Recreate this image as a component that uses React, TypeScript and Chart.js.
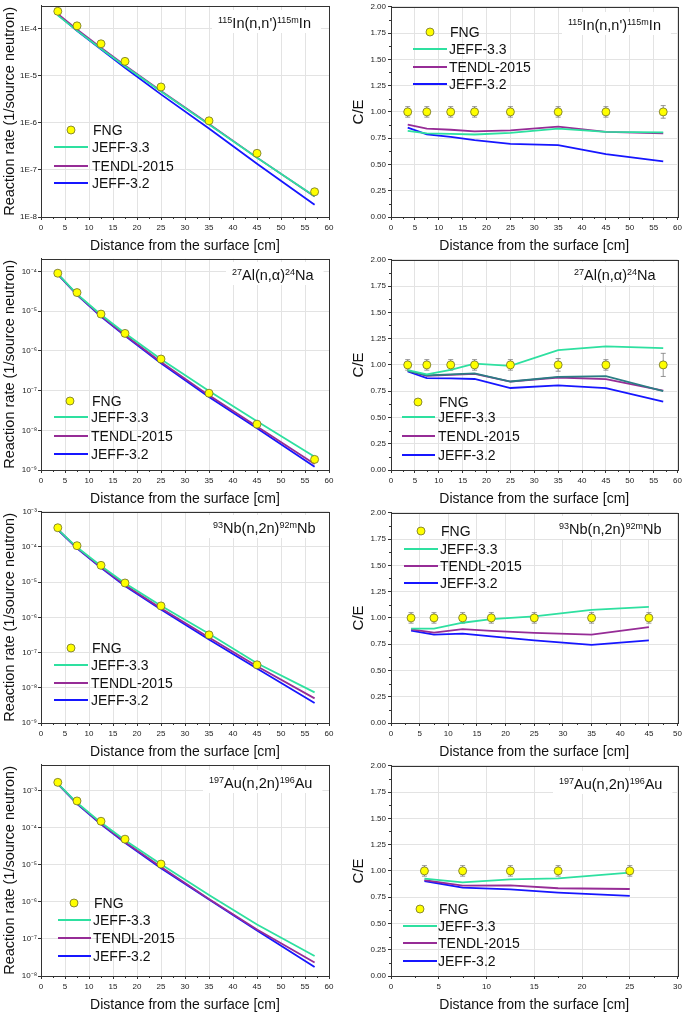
import React, { useEffect, useRef } from 'react';
import { Chart, registerables } from 'chart.js';

Chart.register(...registerables);

const FONT = "'Liberation Sans', Arial, Helvetica, sans-serif";
const C_GREEN = '#2ee0a0';
const C_PURPLE = '#962c96';
const C_BLUE = '#1616ff';
const C_TEAL = '#2b7d84';

// ---------- x positions (cm) ----------
const depthAll = [3.5, 7.5, 12.5, 17.5, 25, 35, 45, 57];
const depthNb = [3.5, 7.5, 12.5, 17.5, 25, 35, 45];
const depthAu = [3.5, 7.5, 12.5, 17.5, 25];

// ---------- 115In(n,n')115mIn ----------
const inFng = [2.37e-4, 1.16e-4, 4.82e-5, 2.04e-5, 5.82e-6, 1.11e-6, 2.26e-7, 3.44e-8];
const inJeff33 = [1.94e-4, 9.2e-5, 3.8e-5, 1.6e-5, 4.66e-6, 9.3e-7, 1.83e-7, 2.77e-8];
const inTendl = [2.09e-4, 9.7e-5, 4.0e-5, 1.66e-5, 4.8e-6, 9.5e-7, 1.83e-7, 2.73e-8];
const inJeff32 = [2.01e-4, 9.1e-5, 3.67e-5, 1.49e-5, 4.05e-6, 7.6e-7, 1.35e-7, 1.82e-8];
const inCeFng = [1, 1, 1, 1, 1, 1, 1, 1];
const inCeErr = [0.05, 0.05, 0.05, 0.05, 0.05, 0.05, 0.05, 0.06];
const inCeJeff33 = [0.82, 0.795, 0.79, 0.785, 0.8, 0.84, 0.81, 0.805];
const inCeTendl = [0.88, 0.84, 0.83, 0.815, 0.825, 0.86, 0.81, 0.795];
const inCeJeff32 = [0.85, 0.787, 0.762, 0.731, 0.696, 0.683, 0.598, 0.529];

// ---------- 27Al(n,a)24Na ----------
const alFng = [9.1e-5, 2.96e-5, 8.5e-6, 2.77e-6, 6.26e-7, 8.6e-8, 1.43e-8, 1.85e-9];
const alJeff33 = [8.7e-5, 2.71e-5, 8.2e-6, 2.8e-6, 6.2e-7, 9.8e-8, 1.69e-8, 2.15e-9];
const alTendl = [8.6e-5, 2.63e-5, 7.7e-6, 2.53e-6, 5.26e-7, 7.6e-8, 1.24e-8, 1.41e-9];
const alJeff32 = [8.55e-5, 2.59e-5, 7.4e-6, 2.41e-6, 4.88e-7, 6.9e-8, 1.12e-8, 1.2e-9];
const alCeFng = [1, 1, 1, 1, 1, 1, 1, 1];
const alCeErr = [0.05, 0.05, 0.05, 0.05, 0.05, 0.06, 0.05, 0.11];
const alCeJeff33 = [0.95, 0.91, 0.953, 1.013, 0.99, 1.14, 1.176, 1.16];
const alCeTendl = [0.945, 0.895, 0.905, 0.915, 0.84, 0.88, 0.864, 0.756];
const alCeExtra = [0.943, 0.9, 0.91, 0.92, 0.842, 0.886, 0.893, 0.75];
const alCeJeff32 = [0.937, 0.875, 0.872, 0.866, 0.78, 0.806, 0.78, 0.651];

// ---------- 93Nb(n,2n)92mNb ----------
const nbFng = [3.52e-4, 1.09e-4, 3.01e-5, 9.5e-6, 2.12e-6, 3.19e-7, 4.5e-8];
const nbJeff33 = [3.16e-4, 9.8e-5, 2.87e-5, 9.4e-6, 2.15e-6, 3.44e-7, 4.97e-8, 7.4e-9];
const nbTendl = [3.14e-4, 9.4e-5, 2.69e-5, 8.3e-6, 1.82e-6, 2.68e-7, 4.1e-8, 5.0e-9];
const nbJeff32 = [3.09e-4, 9.2e-5, 2.56e-5, 7.8e-6, 1.67e-6, 2.37e-7, 3.54e-8, 3.7e-9];
const nbCeFng = [1, 1, 1, 1, 1, 1, 1];
const nbCeErr = [0.05, 0.05, 0.05, 0.05, 0.05, 0.05, 0.05];
const nbCeJeff33 = [0.898, 0.898, 0.954, 0.989, 1.014, 1.077, 1.105];
const nbCeTendl = [0.891, 0.86, 0.894, 0.876, 0.857, 0.841, 0.913];
const nbCeJeff32 = [0.879, 0.841, 0.85, 0.825, 0.787, 0.743, 0.787];

// ---------- 197Au(n,2n)196Au ----------
const auFng = [1.71e-3, 5.38e-4, 1.52e-4, 4.99e-5, 1.06e-5];
const auJeff33 = [1.58e-3, 4.79e-4, 1.4e-4, 4.64e-5, 1.04e-5, 1.55e-6, 2.46e-7, 3.46e-8];
const auTendl = [1.56e-3, 4.63e-4, 1.31e-4, 4.17e-5, 8.8e-6, 1.21e-6, 1.81e-7, 2.33e-8];
const auJeff32 = [1.55e-3, 4.52e-4, 1.25e-4, 3.96e-5, 8.1e-6, 1.17e-6, 1.7e-7, 1.75e-8];
const auCeFng = [1, 1, 1, 1, 1];
const auCeErr = [0.05, 0.05, 0.05, 0.05, 0.05];
const auCeJeff33 = [0.926, 0.891, 0.92, 0.929, 0.983];
const auCeTendl = [0.913, 0.86, 0.863, 0.835, 0.828];
const auCeJeff32 = [0.904, 0.841, 0.825, 0.794, 0.762];

// ---------- tick values & labels ----------
const inTicks = [1e-8, 1e-7, 1e-6, 1e-5, 1e-4];
const inTickLabels = ['1E-8', '1E-7', '1E-6', '1E-5', '1E-4'];
const alTicks = [1e-9, 1e-8, 1e-7, 1e-6, 1e-5, 1e-4];
const alTickLabels = ['10⁻⁹', '10⁻⁸', '10⁻⁷', '10⁻⁶', '10⁻⁵', '10⁻⁴'];
const nbTicks = [1e-9, 1e-8, 1e-7, 1e-6, 1e-5, 1e-4, 1e-3];
const nbTickLabels = ['10⁻⁹', '10⁻⁸', '10⁻⁷', '10⁻⁶', '10⁻⁵', '10⁻⁴', '10⁻³'];
const auTicks = [1e-8, 1e-7, 1e-6, 1e-5, 1e-4, 1e-3];
const auTickLabels = ['10⁻⁸', '10⁻⁷', '10⁻⁶', '10⁻⁵', '10⁻⁴', '10⁻³'];

const legendNames = ['FNG', 'JEFF-3.3', 'TENDL-2015', 'JEFF-3.2'];

type Seg = [string, boolean];
const inLabel: Seg[] = [['115', true], ["In(n,n')", false], ['115m', true], ['In', false]];
const alLabel: Seg[] = [['27', true], ['Al(n,α)', false], ['24', true], ['Na', false]];
const nbLabel: Seg[] = [['93', true], ['Nb(n,2n)', false], ['92m', true], ['Nb', false]];
const auLabel: Seg[] = [['197', true], ['Au(n,2n)', false], ['196', true], ['Au', false]];

type Series = { label: string; x: number[]; y: number[]; color: string; kind: 'point' | 'line'; err?: number[] };
type Legend = { mx: number; my: number; x1: number; x2: number; tx: number; ys: number[] };
type PanelDef = {
  left: number; top: number; w: number; h: number;
  padTop: number; padRight: number; yAxisWidth: number; xAxisHeight: number;
  xMax: number; log: boolean; yMin: number; yMax: number;
  yTicks?: number[]; yTickLabels?: string[]; yTitle: string; yTitlePad: number;
  series: Series[]; label: Seg[]; labelX: number; labelY: number; legend: Legend;
};

function logSeries(fng: number[], fx: number[], j33: number[], td: number[], j32: number[]): Series[] {
  return [
    { label: 'FNG', x: fx, y: fng, color: '#ffff00', kind: 'point' },
    { label: 'JEFF-3.3', x: depthAll, y: j33, color: C_GREEN, kind: 'line' },
    { label: 'TENDL-2015', x: depthAll, y: td, color: C_PURPLE, kind: 'line' },
    { label: 'JEFF-3.2', x: depthAll, y: j32, color: C_BLUE, kind: 'line' },
  ];
}

const LEFT_BASE = { left: 0, w: 340, h: 253, padTop: 5, padRight: 11, yAxisWidth: 41, xAxisHeight: 36, xMax: 60, log: true, yTitle: 'Reaction rate (1/source neutron)', yTitlePad: 1 };
const RIGHT_BASE = { left: 345, w: 340, h: 253, padTop: 6, padRight: 7, yAxisWidth: 46, xAxisHeight: 36, log: false, yMin: 0, yMax: 2, yTitle: 'C/E', yTitlePad: 5 };

const panels: PanelDef[] = [
  {
    ...LEFT_BASE, top: 0, yMin: 1e-8, yMax: 3.1e-4, yTicks: inTicks, yTickLabels: inTickLabels,
    series: logSeries(inFng, depthAll, inJeff33, inTendl, inJeff32),
    label: inLabel, labelX: 218, labelY: 28,
    legend: { mx: 71, my: 130, x1: 54, x2: 88, tx: 92, ys: [147, 166, 183] },
  },
  {
    ...RIGHT_BASE, top: 0, xMax: 60,
    series: [
      { label: 'FNG', x: depthAll, y: inCeFng, color: '#ffff00', kind: 'point', err: inCeErr },
      { label: 'JEFF-3.3', x: depthAll, y: inCeJeff33, color: C_GREEN, kind: 'line' },
      { label: 'TENDL-2015', x: depthAll, y: inCeTendl, color: C_PURPLE, kind: 'line' },
      { label: 'JEFF-3.2', x: depthAll, y: inCeJeff32, color: C_BLUE, kind: 'line' },
    ],
    label: inLabel, labelX: 223, labelY: 30,
    legend: { mx: 85, my: 32, x1: 68, x2: 102, tx: 104, ys: [49, 67, 84] },
  },
  {
    ...LEFT_BASE, top: 253, yMin: 1e-9, yMax: 2.1e-4, yTicks: alTicks, yTickLabels: alTickLabels,
    series: logSeries(alFng, depthAll, alJeff33, alTendl, alJeff32),
    label: alLabel, labelX: 232, labelY: 27,
    legend: { mx: 70, my: 148, x1: 54, x2: 88, tx: 91, ys: [164, 183, 201] },
  },
  {
    ...RIGHT_BASE, top: 253, xMax: 60,
    series: [
      { label: 'FNG', x: depthAll, y: alCeFng, color: '#ffff00', kind: 'point', err: alCeErr },
      { label: 'JEFF-3.3', x: depthAll, y: alCeJeff33, color: C_GREEN, kind: 'line' },
      { label: '', x: depthAll, y: alCeExtra, color: C_TEAL, kind: 'line' },
      { label: 'TENDL-2015', x: depthAll, y: alCeTendl, color: C_PURPLE, kind: 'line' },
      { label: 'JEFF-3.2', x: depthAll, y: alCeJeff32, color: C_BLUE, kind: 'line' },
    ],
    label: alLabel, labelX: 229, labelY: 27,
    legend: { mx: 73, my: 149, x1: 57, x2: 90, tx: 93, ys: [164, 183, 202] },
  },
  {
    ...LEFT_BASE, top: 506, yMin: 1e-9, yMax: 1e-3, yTicks: nbTicks, yTickLabels: nbTickLabels,
    series: logSeries(nbFng, depthNb, nbJeff33, nbTendl, nbJeff32),
    label: nbLabel, labelX: 213, labelY: 27,
    legend: { mx: 71, my: 142, x1: 54, x2: 88, tx: 91, ys: [159, 177, 194] },
  },
  {
    ...RIGHT_BASE, top: 506, xMax: 50,
    series: [
      { label: 'FNG', x: depthNb, y: nbCeFng, color: '#ffff00', kind: 'point', err: nbCeErr },
      { label: 'JEFF-3.3', x: depthNb, y: nbCeJeff33, color: C_GREEN, kind: 'line' },
      { label: 'TENDL-2015', x: depthNb, y: nbCeTendl, color: C_PURPLE, kind: 'line' },
      { label: 'JEFF-3.2', x: depthNb, y: nbCeJeff32, color: C_BLUE, kind: 'line' },
    ],
    label: nbLabel, labelX: 214, labelY: 28,
    legend: { mx: 76, my: 25, x1: 59, x2: 93, tx: 95, ys: [43, 60, 77] },
  },
  {
    ...LEFT_BASE, top: 759, yMin: 1e-8, yMax: 5.1e-3, yTicks: auTicks, yTickLabels: auTickLabels,
    series: logSeries(auFng, depthAu, auJeff33, auTendl, auJeff32),
    label: auLabel, labelX: 209, labelY: 29,
    legend: { mx: 74, my: 144, x1: 58, x2: 91, tx: 93, ys: [161, 179, 197] },
  },
  {
    ...RIGHT_BASE, top: 759, xMax: 30,
    series: [
      { label: 'FNG', x: depthAu, y: auCeFng, color: '#ffff00', kind: 'point', err: auCeErr },
      { label: 'JEFF-3.3', x: depthAu, y: auCeJeff33, color: C_GREEN, kind: 'line' },
      { label: 'TENDL-2015', x: depthAu, y: auCeTendl, color: C_PURPLE, kind: 'line' },
      { label: 'JEFF-3.2', x: depthAu, y: auCeJeff32, color: C_BLUE, kind: 'line' },
    ],
    label: auLabel, labelX: 214, labelY: 30,
    legend: { mx: 75, my: 150, x1: 58, x2: 92, tx: 93, ys: [167, 184, 202] },
  },
];

const MARKER_BORDER = '#6e6e2a';
const MARKER_R = 4;

function buildConfig(p: PanelDef): any {
  const datasets = p.series.map((s) => ({
    label: s.label,
    data: s.x.map((x, i) => ({ x, y: s.y[i] })),
    showLine: s.kind === 'line',
    borderColor: s.kind === 'line' ? s.color : MARKER_BORDER,
    backgroundColor: s.color,
    borderWidth: s.kind === 'line' ? 1.8 : 0.8,
    pointRadius: s.kind === 'line' ? 0 : MARKER_R,
    pointBorderWidth: 0.8,
    pointBackgroundColor: s.color,
    pointBorderColor: MARKER_BORDER,
    tension: 0,
    fill: false,
  }));

  const gridColor = '#e3e3e3';
  const axisColor = '#333333';

  const yScale: any = p.log
    ? {
        type: 'logarithmic',
        min: p.yMin,
        max: p.yMax,
        afterBuildTicks: (s: any) => {
          s.ticks = (p.yTicks || []).map((v) => ({ value: v }));
        },
        ticks: {
          autoSkip: false,
          callback: (_v: any, i: number) => (p.yTickLabels || [])[i] ?? '',
          font: { family: FONT, size: 8 },
          color: '#222',
          padding: 1,
        },
      }
    : {
        type: 'linear',
        min: p.yMin,
        max: p.yMax,
        ticks: {
          stepSize: 0.25,
          autoSkip: false,
          callback: (v: any) => Number(v).toFixed(2),
          font: { family: FONT, size: 8 },
          color: '#222',
          padding: 2,
        },
      };
  Object.assign(yScale, {
    position: 'left',
    grid: { color: gridColor, tickColor: axisColor, tickLength: 3, lineWidth: 1 },
    border: { display: true, color: axisColor, width: 1 },
    title: {
      display: true,
      text: p.yTitle,
      font: { family: FONT, size: p.log ? 14.5 : 15 },
      color: '#111',
      padding: { top: p.yTitlePad, bottom: 0 },
    },
    afterFit: (s: any) => {
      s.width = p.yAxisWidth;
    },
  });

  const xScale: any = {
    type: 'linear',
    position: 'bottom',
    min: 0,
    max: p.xMax,
    ticks: {
      stepSize: 5,
      autoSkip: false,
      maxRotation: 0,
      font: { family: FONT, size: 8 },
      color: '#222',
      padding: 3,
    },
    grid: { color: gridColor, tickColor: axisColor, tickLength: 3, lineWidth: 1 },
    border: { display: true, color: axisColor, width: 1 },
    title: {
      display: true,
      text: 'Distance from the surface [cm]',
      font: { family: FONT, size: 14 },
      color: '#111',
      padding: { top: 0, bottom: -2 },
    },
    afterFit: (s: any) => {
      s.height = p.xAxisHeight;
    },
  };

  const decor = {
    id: 'decor',
    beforeDatasetsDraw(chart: any) {
      const { ctx, scales } = chart;
      ctx.save();
      // reaction label with white box
      let w = 0;
      for (const [t, sup] of p.label) {
        ctx.font = sup ? `9px ${FONT}` : `14.5px ${FONT}`;
        w += ctx.measureText(t).width;
      }
      ctx.fillStyle = '#ffffff';
      ctx.fillRect(p.labelX - 6, p.labelY - 18, w + 16, 23);
      let cx = p.labelX;
      ctx.fillStyle = '#111';
      ctx.textBaseline = 'alphabetic';
      ctx.textAlign = 'left';
      for (const [t, sup] of p.label) {
        ctx.font = sup ? `9px ${FONT}` : `14.5px ${FONT}`;
        ctx.fillText(t, cx, sup ? p.labelY - 5.5 : p.labelY);
        cx += ctx.measureText(t).width;
      }
      // error bars
      const xs = scales.x;
      const ys = scales.y;
      ctx.strokeStyle = '#7a7a7a';
      ctx.lineWidth = 0.8;
      for (const s of p.series) {
        if (!s.err) continue;
        s.x.forEach((xv, i) => {
          const px = xs.getPixelForValue(xv);
          const y1 = ys.getPixelForValue(s.y[i] - s.err![i]);
          const y2 = ys.getPixelForValue(s.y[i] + s.err![i]);
          ctx.beginPath();
          ctx.moveTo(px, y1);
          ctx.lineTo(px, y2);
          ctx.moveTo(px - 2.5, y1);
          ctx.lineTo(px + 2.5, y1);
          ctx.moveTo(px - 2.5, y2);
          ctx.lineTo(px + 2.5, y2);
          ctx.stroke();
        });
      }
      ctx.restore();
    },
    afterDatasetsDraw(chart: any) {
      const { ctx, chartArea: a, scales } = chart;
      ctx.save();
      // frame
      ctx.strokeStyle = axisColor;
      ctx.lineWidth = 1;
      ctx.strokeRect(Math.round(a.left) + 0.5, Math.round(a.top) + 0.5, Math.round(a.right - a.left), Math.round(a.bottom - a.top));
      // minor ticks
      ctx.beginPath();
      const xs = scales.x;
      for (let v = 2.5; v < p.xMax; v += 5) {
        const px = Math.round(xs.getPixelForValue(v)) + 0.5;
        ctx.moveTo(px, a.bottom);
        ctx.lineTo(px, a.bottom + 2);
      }
      if (!p.log) {
        const ys = scales.y;
        for (let v = 0.125; v < p.yMax; v += 0.25) {
          const py = Math.round(ys.getPixelForValue(v)) + 0.5;
          ctx.moveTo(a.left, py);
          ctx.lineTo(a.left - 2, py);
        }
      }
      ctx.stroke();
      // legend
      const L = p.legend;
      ctx.beginPath();
      ctx.arc(L.mx, L.my, MARKER_R, 0, Math.PI * 2);
      ctx.fillStyle = '#ffff00';
      ctx.fill();
      ctx.strokeStyle = MARKER_BORDER;
      ctx.lineWidth = 0.8;
      ctx.stroke();
      ctx.font = `14px ${FONT}`;
      ctx.textBaseline = 'middle';
      ctx.textAlign = 'left';
      ctx.fillStyle = '#111';
      ctx.fillText(legendNames[0], L.tx + 1, L.my + 1);
      const cols = [C_GREEN, C_PURPLE, C_BLUE];
      L.ys.forEach((y, i) => {
        ctx.beginPath();
        ctx.strokeStyle = cols[i];
        ctx.lineWidth = 2;
        ctx.moveTo(L.x1, y);
        ctx.lineTo(L.x2, y);
        ctx.stroke();
        ctx.fillStyle = '#111';
        ctx.fillText(legendNames[i + 1], L.tx, y + 1);
      });
      ctx.restore();
    },
  };

  return {
    type: 'line',
    data: { datasets },
    options: {
      animation: false,
      responsive: false,
      devicePixelRatio: 1,
      events: [],
      parsing: true,
      layout: { padding: { top: p.padTop, right: p.padRight, left: 0, bottom: 0 } },
      plugins: { legend: { display: false }, tooltip: { enabled: false }, title: { display: false } },
      scales: { x: xScale, y: yScale },
    },
    plugins: [decor],
  };
}

function Panel({ def }: { def: PanelDef }) {
  const ref = useRef<HTMLCanvasElement>(null);
  useEffect(() => {
    const canvas = ref.current;
    if (!canvas) return;
    const chart = new Chart(canvas, buildConfig(def));
    return () => chart.destroy();
  }, [def]);
  return (
    <canvas
      ref={ref}
      width={def.w}
      height={def.h}
      style={{ position: 'absolute', left: def.left, top: def.top, width: def.w, height: def.h }}
    />
  );
}

export default function App() {
  return (
    <div style={{ position: 'absolute', left: 0, top: 0, width: 685, height: 1012, background: '#ffffff', overflow: 'hidden' }}>
      {panels.map((p, i) => (
        <Panel key={i} def={p} />
      ))}
    </div>
  );
}
